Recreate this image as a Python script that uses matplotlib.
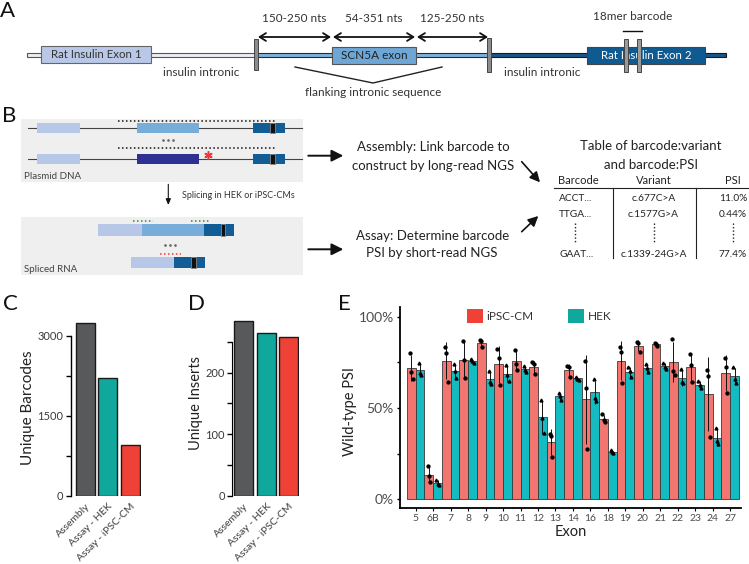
import matplotlib
matplotlib.use('Agg')
import matplotlib.pyplot as plt
from matplotlib.patches import Rectangle
import numpy as np

plt.rcParams['font.family'] = ['Lato', 'DejaVu Sans']

# ---------------- data ----------------
count_cats = ["Assembly", "Assay - HEK", "Assay - iPSC-CM"]
barcode_counts = [3237, 2212, 956]
insert_counts = [284, 264, 258]
count_colors = ["#58595b", "#10a89c", "#ef4136"]

exons = ["5", "6B", "7", "8", "9", "10", "11", "12", "13", "14", "16", "18",
         "19", "20", "21", "22", "23", "24", "27"]
ipsc_psi = [[79.9, 69.9, 66.1], [18.1, 13.0, 9.5], [83.2, 80.3, 64.2], [86.9, 76.3, 66.2],
            [87.0, 86.5, 83.4], [82.1, 77.2, 62.6], [82.0, 74.2, 71.0], [75.0, 73.9, 68.6],
            [35.6, 34.9, 23.0], [73.2, 72.6, 67.2], [75.5, 61.1, 27.7], [46.5, 43.4, 42.3],
            [83.4, 80.8, 63.7], [86.1, 85.8, 80.7], [85.8, 85.2, 83.8], [87.8, 70.1, 67.9],
            [79.5, 73.5, 64.2], [71.0, 67.3, 34.1], [77.2, 72.3, 58.4]]
hek_psi = [[74.8, 69.4, 68.2], [10.5, 8.4, 7.9], [74.0, 70.2, 66.7], [77.0, 75.7, 74.6],
           [70.4, 64.1, 63.1], [73.4, 68.2, 64.8], [72.8, 71.0, 69.8], [54.4, 44.3, 36.1],
           [58.2, 56.5, 54.4], [67.2, 66.1, 65.3], [65.9, 55.7, 54.0], [27.0, 25.9, 25.2],
           [72.3, 70.3, 66.8], [74.2, 72.0, 69.5], [74.5, 72.6, 71.5], [71.4, 64.4, 63.5],
           [64.8, 62.7, 60.9], [39.2, 31.8, 30.3], [72.4, 65.9, 63.9]]
series_names = ["iPSC-CM", "HEK"]
bar_colors = ["#f2766f", "#14bcc1"]
legend_colors = ["#ef4136", "#10a89c"]

table_rows = [["ACCT...", "c.677C>A", "11.0%"],
              ["TTGA...", "c.1577G>A", "0.44%"],
              ["GAAT...", "c.1339-24G>A", "77.4%"]]

W, H = 749, 564
fig = plt.figure(figsize=(W / 100, H / 100), dpi=100)


def ax_px(x0, y0, x1, y1):
    return fig.add_axes([x0 / W, 1 - y1 / H, (x1 - x0) / W, (y1 - y0) / H])


tick_col = "#3a3a3a"

# ---------------- panel C ----------------
axC = ax_px(71, 320, 140.5, 496)
xs = np.arange(len(count_cats))
axC.bar(xs, barcode_counts, width=0.845, color=count_colors, edgecolor='#1a1a1a', linewidth=1.0)
axC.set_xlim(-0.64, 2.45)
axC.set_ylim(0, 3300)
axC.set_yticks([0, 750, 1500, 2250, 3000])
axC.set_yticklabels(['0', '', '1500', '', '3000'])
for s in ['top', 'right', 'bottom']:
    axC.spines[s].set_visible(False)
axC.spines['left'].set_bounds(0, 3000)
axC.spines['left'].set_linewidth(1.0)
axC.tick_params(axis='y', length=3.5, width=1.0, labelsize=8, labelcolor=tick_col, pad=2)
axC.set_xticks(xs)
axC.set_xticklabels(count_cats, rotation=45, ha='right', rotation_mode='anchor', fontsize=7.5, color=tick_col)
axC.tick_params(axis='x', length=0, pad=4)
axC.set_ylabel('Unique Barcodes', fontsize=11, color='#222')
axC.yaxis.set_label_coords(-0.52, 0.5)

# ---------------- panel D ----------------
axD = ax_px(232, 317, 298.8, 496)
axD.bar(xs, insert_counts, width=0.845, color=count_colors, edgecolor='#1a1a1a', linewidth=1.0)
axD.set_xlim(-0.52, 2.45)
axD.set_ylim(0, 290)
axD.set_yticks([0, 50, 100, 150, 200, 250])
axD.set_yticklabels(['0', '', '100', '', '200', ''])
for s in ['top', 'right', 'bottom']:
    axD.spines[s].set_visible(False)
axD.spines['left'].set_bounds(0, 250)
axD.tick_params(axis='y', length=3.5, width=1.0, labelsize=8, labelcolor=tick_col, pad=1.5)
axD.set_xticks(xs)
axD.set_xticklabels(count_cats, rotation=45, ha='right', rotation_mode='anchor', fontsize=7.5, color=tick_col)
axD.tick_params(axis='x', length=0, pad=4)
axD.set_ylabel('Unique Inserts', fontsize=10.5, color='#222')
axD.yaxis.set_label_coords(-0.44, 0.52)

# ---------------- panel E ----------------
axE = ax_px(400, 306.7, 741, 508)
xe = np.arange(len(exons))
offs = [-0.25, 0.25]
markers = ['o', '^']
for k, reps in enumerate([ipsc_psi, hek_psi]):
    arr = np.array(reps)
    mean = arr.mean(axis=1)
    sd = arr.std(axis=1, ddof=1)
    axE.bar(xe + offs[k], mean, width=0.5, color=bar_colors[k], edgecolor='#3a3a3a', linewidth=0.6, zorder=2)
    axE.errorbar(xe + offs[k], mean, yerr=sd, fmt='none', ecolor='#111', elinewidth=0.7, capsize=0, zorder=3)
    for j, jit in enumerate([-0.07, 0.0, 0.07]):
        axE.plot(xe + offs[k] + jit, arr[:, j], linestyle='none', marker=markers[k], ms=2.1,
                 color='black', zorder=4)
axE.set_xlim(-0.9, 18.62)
axE.set_ylim(-4.8, 105.5)
axE.set_yticks([0, 25, 50, 75, 100])
axE.set_yticklabels(['0%', '', '50%', '', '100%'])
axE.set_xticks(xe)
axE.set_xticklabels(exons)
for s in ['top', 'right']:
    axE.spines[s].set_visible(False)
for s in ['left', 'bottom']:
    axE.spines[s].set_linewidth(1.3)
axE.tick_params(axis='y', length=2.5, width=1.0, labelsize=10, labelcolor='#4d4d4d', pad=2)
axE.tick_params(axis='x', length=2.5, width=0.8, labelsize=7.5, labelcolor='#4d4d4d', pad=2)
axE.set_ylabel('Wild-type PSI', fontsize=10.5, color='#222')
axE.yaxis.set_label_coords(-0.126, 0.48)
axE.set_xlabel('Exon', fontsize=10.5, color='#222', labelpad=1)

# ---------------- overlay (diagrams) ----------------
ov = fig.add_axes([0, 0, 1, 1])
ov.set_xlim(0, W)
ov.set_ylim(H, 0)
ov.axis('off')


def rect(x0, y0, x1, y1, fc, ec='none', lw=0.8, z=2):
    ov.add_patch(Rectangle((x0, y0), x1 - x0, y1 - y0, facecolor=fc, edgecolor=ec, linewidth=lw, zorder=z))


def txt(x, y, s, size, color='#333', ha='center', **kw):
    ov.text(x, y, s, fontsize=size, color=color, ha=ha, va='center', **kw)


# panel letters
for lab, (lx, ly) in {"A": (8, 11), "B": (9, 116), "C": (10, 304), "D": (196, 304), "E": (344, 304)}.items():
    txt(lx, ly, lab, 16, color='#111')

# ---- panel A ----
rect(27, 52.7, 255, 57.3, '#eceef4', '#555', 0.8)
rect(255, 52.7, 489, 57.3, '#7db3de', '#2a2a2a', 0.8)
rect(489, 52.7, 726, 57.3, '#1a5687', '#1a1a1a', 0.8)
rect(40.6, 46, 151, 63, '#b9c8e7', '#666', 0.8, z=3)
txt(96, 55, 'Rat Insulin Exon 1', 8.3, '#333')
rect(332, 47, 416, 64, '#6ea7d5', '#555', 0.8, z=3)
txt(374, 55.5, 'SCN5A exon', 8.5, '#222')
rect(587, 47, 705, 64, '#0f5a91', '#444', 0.8, z=3)
txt(646, 55.5, 'Rat Insulin Exon 2', 8.3, 'white')
rect(254, 39, 258, 70, '#8c8c8c', '#444', 0.7, z=4)
rect(487, 38, 491, 72, '#8c8c8c', '#444', 0.7, z=4)
rect(624, 39, 628, 72, '#9a9a9a', '#444', 0.7, z=4)
rect(637, 39, 641, 72, '#9a9a9a', '#444', 0.7, z=4)
ov.plot([623, 642], [31, 31], color='#111', lw=1)
txt(633, 17, '18mer barcode', 8.5, '#333')
for (a, b, lab) in [(258, 331, '150-250 nts'), (333, 415, '54-351 nts'), (417, 488, '125-250 nts')]:
    ov.annotate('', xy=(b, 37), xytext=(a, 37),
                arrowprops=dict(arrowstyle='<->,head_length=0.45,head_width=0.28', lw=1.3, color='#111',
                                shrinkA=0, shrinkB=0))
    txt((a + b) / 2, 18, lab, 8.5, '#333')
txt(201, 72, 'insulin intronic', 8.5, '#333')
txt(542, 72, 'insulin intronic', 8.5, '#333')
ov.plot([295, 373, 442], [67, 83, 67], color='#222', lw=1)
txt(373, 93, 'flanking intronic sequence', 8.5, '#333')

# ---- panel B ----
rect(20.7, 119, 303.3, 182.3, '#efefef')
for (ly, mid_col, dot_y) in [(128, '#79add9', 121), (159, '#2e3192', 148.3)]:
    ov.plot([28.3, 301.7], [ly, ly], color='#444', lw=0.8, zorder=3)
    rect(36.7, ly - 4.7, 80, ly + 4.7, '#b7c7e7', z=4)
    rect(137.3, ly - 4.7, 199.3, ly + 4.7, mid_col, z=4)
    rect(253.3, ly - 4.7, 285, ly + 4.7, '#135d96', z=4)
    rect(270, ly - 4.7, 275, ly + 4.7, '#111', '#888', 0.6, z=5)
    ov.plot([118.3, 275], [dot_y, dot_y], color='#111', lw=1.1, ls=(0, (1, 1.6)), zorder=3)
ov.plot([163, 168, 173], [140, 140, 140], 'o', ms=0.9, color='#666')
ov.plot([208.3], [154.5], marker=(6, 2, 0), ms=6, mew=1.1, color='#e8383d', ls='none', zorder=6)
txt(24, 176.7, 'Plasmid DNA', 7, '#444', ha='left')
ov.annotate('', xy=(168.3, 205), xytext=(168.3, 184.3),
            arrowprops=dict(arrowstyle='-|>,head_length=0.35,head_width=0.15', lw=0.8, color='#111',
                            shrinkA=0, shrinkB=0))
txt(181.7, 195.7, 'Splicing in HEK or iPSC-CMs', 6.5, '#333', ha='left')

rect(20.7, 216.7, 303.3, 275, '#efefef')
rect(97.7, 224.3, 141.7, 236, '#b7c7e7', z=4)
rect(141.7, 224.3, 204, 236, '#79add9', z=4)
rect(204, 224.3, 234.3, 236, '#135d96', z=4)
rect(220.7, 224.3, 225.3, 236, '#111', '#888', 0.6, z=5)
ov.plot([133.3, 153.3], [221, 221], color='#2e8b3a', lw=1.1, ls=(0, (1, 1.6)))
ov.plot([190.7, 210], [221, 221], color='#2e8b3a', lw=1.1, ls=(0, (1, 1.6)))
ov.plot([165, 170, 175], [245, 245, 245], 'o', ms=0.9, color='#666')
rect(131, 256.7, 174.3, 267.7, '#b7c7e7', z=4)
rect(174.3, 256.7, 205, 267.7, '#135d96', z=4)
rect(191, 256.7, 195.7, 267.7, '#111', '#888', 0.6, z=5)
ov.plot([160, 180.7], [254, 254], color='#e8383d', lw=1.1, ls=(0, (1, 1.6)))
txt(24, 270, 'Spliced RNA', 7, '#444', ha='left')

for ay in [155.7, 249.3]:
    ov.annotate('', xy=(343.3, ay), xytext=(308.3, ay),
                arrowprops=dict(arrowstyle='-|>,head_length=0.7,head_width=0.35', lw=1.4, color='#111',
                                shrinkA=0, shrinkB=0))
txt(433, 147, 'Assembly: Link barcode to', 9.5, '#222')
txt(433, 166, 'construct by long-read NGS', 9.5, '#222')
txt(433, 236, 'Assay: Determine barcode', 9.5, '#222')
txt(432, 253, 'PSI by short-read NGS', 9.5, '#222')
ov.annotate('', xy=(540, 182.3), xytext=(521.7, 161.7),
            arrowprops=dict(arrowstyle='-|>,head_length=0.6,head_width=0.3', lw=1.2, color='#111',
                            shrinkA=0, shrinkB=0))
ov.annotate('', xy=(538.3, 216), xytext=(521.7, 231.7),
            arrowprops=dict(arrowstyle='-|>,head_length=0.6,head_width=0.3', lw=1.2, color='#111',
                            shrinkA=0, shrinkB=0))

# table
txt(651, 145.7, 'Table of barcode:variant', 9.5, '#222')
txt(651, 165, 'and barcode:PSI', 9.5, '#222')
col_x = [578.3, 653.5, 733]
for cx, h in zip(col_x, ['Barcode', 'Variant', 'PSI']):
    txt(cx, 181, h, 8, '#222')
ov.plot([554.3, 749], [187.7, 187.7], color='#222', lw=0.8)
ov.plot([612.7, 612.7], [187.7, 258.3], color='#222', lw=0.8)
ov.plot([696, 696], [187.7, 258.3], color='#222', lw=0.8)
row_y = [198.3, 214.3, 254.3]
for ry, row in zip(row_y, table_rows):
    txt(559, ry, row[0], 7.3, '#222', ha='left')
    txt(col_x[1], ry, row[1], 7.3, '#222')
    txt(col_x[2], ry, row[2], 7.3, '#222')
for cx in [575, 653.5, 733]:
    ov.plot([cx, cx], [223.3, 243.3], color='#222', lw=1.0, ls=(0, (1, 1.5)))

# legend for panel E
for (x0, lab, col) in [(466.7, series_names[0], legend_colors[0]), (567.7, series_names[1], legend_colors[1])]:
    rect(x0, 309.3, x0 + 16.6, 323.3, col, z=6)
    txt(x0 + 20, 316.3, lab, 8.5, '#333', ha='left')

fig.savefig('out.png', dpi=100)
